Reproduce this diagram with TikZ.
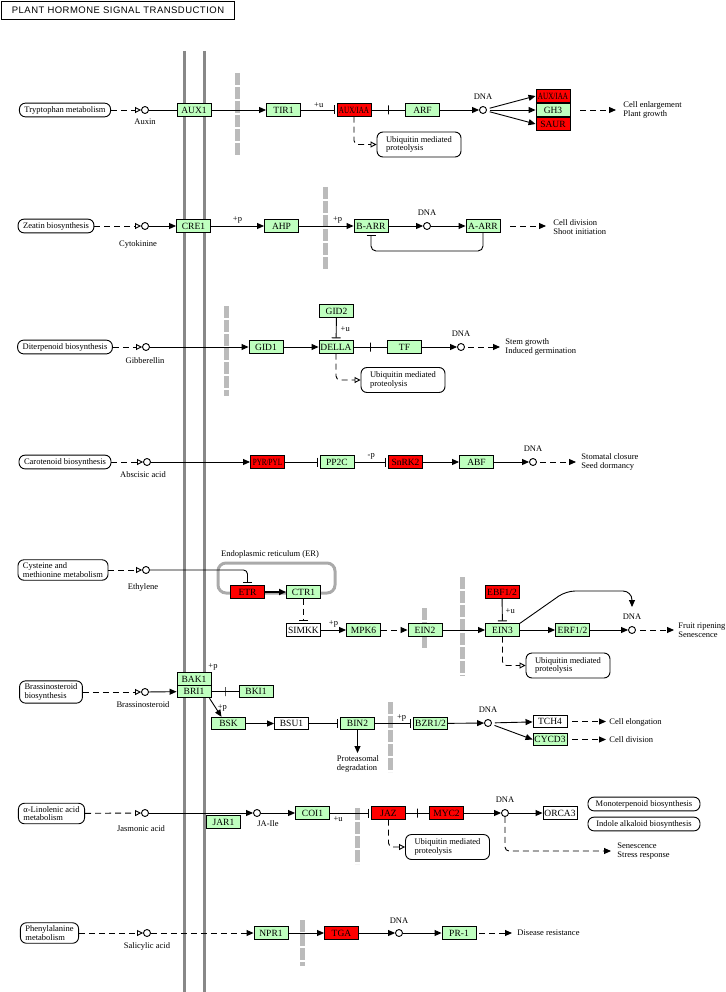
\documentclass[tikz,border=0pt]{standalone}
\usepackage{fontspec}
\setmainfont{Liberation Serif}
\newfontfamily\titlefont[LetterSpace=5]{Liberation Sans}
\usepackage{graphicx}
\usepackage{tikz}
\usetikzlibrary{arrows.meta}
\definecolor{keggreen}{HTML}{BFFFBF}
\definecolor{keggred}{HTML}{FF0000}
\definecolor{memgray}{HTML}{888888}
\definecolor{nucgray}{HTML}{BBBBBB}
\definecolor{ergray}{HTML}{AAAAAA}
\newcommand{\squeeze}[1]{\scalebox{0.75}[1]{#1}}
\tikzset{
  gene/.style = {draw=black, fill=keggreen, minimum width=34pt, minimum height=12.5pt,
    inner sep=0pt, font=\fontsize{9.5}{9.5}\selectfont},% gene box, green
  hitgene/.style = {gene, fill=keggred},% gene box, red
  plaingene/.style = {gene, fill=white},% gene box, no colour
  mapbox/.style = {draw=black, fill=white, rounded corners=6pt, align=left,
    inner xsep=5pt, inner ysep=3pt, font=\fontsize{8.5}{8.5}\selectfont},% link to another map
  ubqbox/.style = {mapbox, minimum width=84pt, minimum height=25pt},
  cpd/.style = {circle, draw=black, fill=white, minimum size=7pt, inner sep=0pt},% compound
  txt/.style = {inner sep=0pt, align=left, font=\fontsize{8.5}{8.5}\selectfont},
  titlebox/.style = {draw=black, line width=1.6pt, minimum width=233pt, minimum height=18pt,
    inner sep=0pt, font=\titlefont\fontsize{9.5}{9.5}\selectfont},
  erbox/.style = {draw=ergray, line width=3pt, rounded corners=8pt,
    minimum width=117pt, minimum height=30pt},% endoplasmic reticulum
  kdash/.style = {dash pattern=on 6pt off 4pt},
  act/.style = {-{Triangle[length=7pt,width=6pt]}},
  inh/.style = {-{Bar[width=9pt]}, shorten >=2pt},
  maplink/.style = {kdash, -{Triangle[open,length=6pt,width=6pt]}},
  indirect/.style = {kdash, act},
  midbar/.style = {draw, inner sep=0pt, minimum width=0pt, minimum height=9pt},
  membrane/.style = {line width=3pt, memgray},
  nucleus/.style = {line width=5pt, nucgray, dash pattern=on 12pt off 2pt}
}

\begin{document}
\begin{tikzpicture}[x=1pt, y=-1pt, line width=0.9pt]
	\useasboundingbox (0,0) rectangle (725,992);
	% cell membrane and nuclear envelope
	\draw[membrane] (184,51) -- (184,992);
	\draw[membrane] (204,51) -- (204,992);
	\foreach \nx/\ny/\nz in {237/73/156, 325/187/269, 226/306/396, 424/608/648,
		462/577/676, 390/702/772, 357/808/864, 302/920/966}
		\draw[nucleus] (\nx,\ny) -- (\nx,\nz);
	\node[titlebox] (title) at (118,10.5) {PLANT HORMONE SIGNAL TRANSDUCTION};

	% auxin
	\node[mapbox] (trp) at (65,110) {Tryptophan metabolism};
	\node[cpd] (auxin) at (145,110) {};
	\node[txt] (auxinlbl) at (145,122) {Auxin};
	\node[gene] (aux1) at (194,110) {AUX1};
	\node[gene] (tir1) at (283.5,110) {TIR1};
	\node[hitgene] (auxiaa) at (354,110) {\squeeze{AUX/IAA}};
	\node[gene] (arf) at (422.5,110) {ARF};
	\node[cpd] (dna1) at (483,110) {};
	\node[txt] (dna1lbl) at (483,97) {DNA};
	\node[hitgene] (auxiaab) at (553,96) {\squeeze{AUX/IAA}};
	\node[gene] (gh3) at (553,110) {GH3};
	\node[hitgene] (saur) at (553,124) {SAUR};
	\node[ubqbox] (ubq1) at (419,144.5) {Ubiquitin mediated\\proteolysis};
	\coordinate (gro1) at (580,110);
	\coordinate (gro2) at (616,110);
	\node[txt, anchor=west] (grolbl) at (623,110) {Cell enlargement\\Plant growth};
	\draw[maplink] (trp) -- (auxin);
	\draw (auxin) -- (aux1);
	\draw[act] (aux1) -- (tir1);
	\draw[inh] (tir1) -- node[txt, above=2pt] (ul1) {+u} (auxiaa);
	\draw (auxiaa) -- node[midbar] (bar1) {} (arf);
	\draw[act] (arf) -- (dna1);
	\draw[act, shorten <=3pt] (dna1) -- (auxiaab.west);
	\draw[act, shorten <=3pt] (dna1) -- (gh3);
	\draw[act, shorten <=3pt] (dna1) -- (saur.west);
	\draw[indirect] (gro1) -- (gro2);
	\draw[maplink, rounded corners=4pt] (auxiaa) |- (ubq1);

	% cytokinine
	\node[mapbox] (zea) at (56,226) {Zeatin biosynthesis};
	\node[cpd] (cyto) at (145,226) {};
	\node[txt] (cytolbl) at (138,244) {Cytokinine};
	\node[gene] (cre1) at (193.5,226) {CRE1};
	\node[gene] (ahp) at (281.5,226) {AHP};
	\node[gene] (barr) at (371,226) {B-ARR};
	\node[cpd] (dna2) at (427,226) {};
	\node[txt] (dna2lbl) at (427,213) {DNA};
	\node[gene] (aarr) at (483,226) {A-ARR};
	\coordinate (loop2) at (427,251);
	\coordinate (div1) at (510,226);
	\coordinate (div2) at (546,226);
	\node[txt, anchor=west] (divlbl) at (553,227) {Cell division\\Shoot initiation};
	\draw[maplink] (zea) -- (cyto);
	\draw[act] (cyto) -- (cre1);
	\draw[act] (cre1) -- node[txt, above=2pt] (pl2a) {+p} (ahp);
	\draw[act] (ahp) -- node[txt, above=2pt, pos=0.71] (pl2b) {+p} (barr);
	\draw[act] (barr) -- (dna2);
	\draw[act] (dna2) -- (aarr);
	\draw[inh, rounded corners=5pt] (aarr) |- (loop2) -| (barr);
	\draw[indirect] (div1) -- (div2);

	% gibberellin
	\node[mapbox] (diter) at (65,347) {Diterpenoid biosynthesis};
	\node[cpd] (gib) at (146,347) {};
	\node[txt] (giblbl) at (145,361) {Gibberellin};
	\node[gene] (gid1) at (266,347) {GID1};
	\node[gene] (della) at (336,347) {DELLA};
	\node[gene] (gid2) at (336.5,311) {GID2};
	\node[gene] (tf) at (404.5,347) {TF};
	\node[cpd] (dna3) at (461,347) {};
	\node[txt] (dna3lbl) at (461,334) {DNA};
	\node[ubqbox] (ubq3) at (403,380) {Ubiquitin mediated\\proteolysis};
	\coordinate (stem1) at (468,347);
	\coordinate (stem2) at (500,347);
	\node[txt, anchor=west] (stemlbl) at (505,347) {Stem growth\\Induced germination};
	\draw[maplink] (diter) -- (gib);
	\draw[act] (gib) -- (gid1);
	\draw[act] (gid1) -- (della);
	\draw[inh] (gid2) -- node[txt, right=4pt] (ul3) {+u} (della);
	\draw (della) -- node[midbar] (bar3) {} (tf);
	\draw[act] (tf) -- (dna3);
	\draw[indirect] (stem1) -- (stem2);
	\draw[maplink, rounded corners=4pt] (della) |- (ubq3);

	% abscisic acid
	\node[mapbox] (carot) at (65,462) {Carotenoid biosynthesis};
	\node[cpd] (aba) at (147,462) {};
	\node[txt] (abalbl) at (143,475) {Abscisic acid};
	\node[hitgene] (pyr) at (267.5,462) {\squeeze{PYR/PYL}};
	\node[gene] (pp2c) at (337,462) {PP2C};
	\node[hitgene] (snrk2) at (405.5,462) {SnRK2};
	\node[gene] (abf) at (476.5,462) {ABF};
	\node[cpd] (dna4) at (533,462) {};
	\node[txt] (dna4lbl) at (533,449) {DNA};
	\coordinate (sto1) at (540,462);
	\coordinate (sto2) at (576,462);
	\node[txt, anchor=west] (stolbl) at (581,462) {Stomatal closure\\Seed dormancy};
	\draw[maplink] (carot) -- (aba);
	\draw[act] (aba) -- (pyr);
	\draw[inh] (pyr) -- (pp2c);
	\draw[inh] (pp2c) -- node[txt, above=2pt] (mp4) {-p} (snrk2);
	\draw[act] (snrk2) -- (abf);
	\draw[act] (abf) -- (dna4);
	\draw[indirect] (sto1) -- (sto2);

	% ethylene
	\node[mapbox] (cys) at (63,570) {Cysteine and\\methionine metabolism};
	\node[cpd] (eth) at (146,570) {};
	\node[txt] (ethlbl) at (143,587) {Ethylene};
	\node[erbox] (er) at (276.5,578) {};
	\node[txt] (erlbl) at (270,554) {Endoplasmic reticulum (ER)};
	\node[hitgene] (etr) at (247.5,592) {ETR};
	\node[gene] (ctr1) at (303.5,592) {CTR1};
	\node[plaingene] (simkk) at (303.5,630) {SIMKK};
	\node[gene] (mpk6) at (363.5,630) {MPK6};
	\node[gene] (ein2) at (425,630) {EIN2};
	\node[gene] (ein3) at (502.5,630) {EIN3};
	\node[hitgene] (ebf) at (502,592) {EBF1/2};
	\node[gene] (erf) at (572.5,630) {ERF1/2};
	\node[cpd] (dna5) at (632,630) {};
	\node[txt] (dna5lbl) at (632,617) {DNA};
	\coordinate (bend5) at (566,591);
	\coordinate (top5) at (632,591);
	\coordinate (tip5) at (632,607);
	\node[ubqbox] (ubq5) at (568,665.5) {Ubiquitin mediated\\proteolysis};
	\coordinate (fru1) at (640,630);
	\coordinate (fru2) at (674,630);
	\node[txt, anchor=west] (frulbl) at (678,630) {Fruit ripening\\Senescence};
	\draw[maplink] (cys) -- (eth);
	\draw[inh, rounded corners=4pt] (eth) -| (etr);
	\draw[act, line width=2pt] (etr) -- (ctr1);
	\draw[inh, kdash] (ctr1) -- (simkk);
	\draw[act] (simkk) -- node[txt, above=2pt] (pl5) {+p} (mpk6);
	\draw[indirect] (mpk6) -- (ein2);
	\draw[act] (ein2) -- (ein3);
	\draw[inh] (ebf) -- node[txt, right=3pt] (ul5) {+u} (ein3);
	\draw[act] (ein3) -- (erf);
	\draw[act] (erf) -- (dna5);
	\draw[act, rounded corners=9pt] (ein3.north east) -- (bend5) -- (top5) -- (tip5);
	\draw[indirect] (fru1) -- (fru2);
	\draw[maplink, rounded corners=4pt] (ein3) |- (ubq5);

	% brassinosteroid
	\node[mapbox] (brs) at (51,692) {Brassinosteroid\\biosynthesis};
	\node[cpd] (brass) at (145,692) {};
	\node[txt] (brasslbl) at (143,705) {Brassinosteroid};
	\node[gene] (bak1) at (194,679) {BAK1};
	\node[gene] (bri1) at (194,691.5) {BRI1};
	\node[txt] (pl6a) at (213,667) {+p};
	\node[gene] (bki1) at (256,691.5) {BKI1};
	\node[gene] (bsk) at (228.5,723.5) {BSK};
	\node[plaingene] (bsu1) at (291.5,723.5) {BSU1};
	\node[gene] (bin2) at (357.5,723.5) {BIN2};
	\coordinate (deg) at (357.5,753);
	\node[txt] (deglbl) at (358,764) {Proteasomal\\degradation};
	\node[gene] (bzr) at (430.5,723.5) {BZR1/2};
	\node[cpd] (dna6) at (488,723) {};
	\node[txt] (dna6lbl) at (488,710) {DNA};
	\node[plaingene] (tch4) at (550,721.5) {TCH4};
	\node[gene] (cycd3) at (550,739.5) {CYCD3};
	\coordinate (el1) at (572,721.5);
	\coordinate (el2) at (606,721.5);
	\coordinate (cd1) at (572,739.5);
	\coordinate (cd2) at (606,739.5);
	\node[txt, anchor=west] (ellbl) at (609,722) {Cell elongation};
	\node[txt, anchor=west] (cdlbl) at (609,740) {Cell division};
	\draw[maplink] (brs) -- (brass);
	\draw[act] (brass) -- (bri1);
	\draw (bri1) -- node[midbar] (bar6) {} (bki1);
	\draw[act] ([xshift=-2pt]bri1.south east) -- node[txt, right=2pt] (pl6b) {+p} ([xshift=-7pt]bsk.north);
	\draw[act] (bsk) -- (bsu1);
	\draw[inh] (bsu1) -- (bin2);
	\draw[act] (bin2) -- (deg);
	\draw[inh] (bin2) -- node[txt, above=2pt, pos=0.7] (pl6c) {+p} (bzr);
	\draw[act] (bzr) -- (dna6);
	\draw[act, shorten <=3pt] (dna6) -- (tch4);
	\draw[act, shorten <=3pt] (dna6) -- (cycd3.west);
	\draw[indirect] (el1) -- (el2);
	\draw[indirect] (cd1) -- (cd2);

	% jasmonic acid
	\node[mapbox] (lin) at (51.5,813.5) {α-Linolenic acid\\metabolism};
	\node[cpd] (jasm) at (145,813) {};
	\node[txt] (jasmlbl) at (141,829) {Jasmonic acid};
	\node[gene] (jar1) at (223.5,822) {JAR1};
	\node[cpd] (jaile) at (257,813) {};
	\node[txt] (jailelbl) at (268,824) {JA-Ile};
	\node[gene] (coi1) at (312.5,813) {COI1};
	\node[hitgene] (jaz) at (388.5,813) {JAZ};
	\node[hitgene] (myc2) at (446.5,813) {MYC2};
	\node[cpd] (dna7) at (505,813) {};
	\node[txt] (dna7lbl) at (505,800) {DNA};
	\node[plaingene] (orca3) at (560,813) {ORCA3};
	\node[mapbox, minimum width=112pt] (mono) at (644,804) {Monoterpenoid biosynthesis};
	\node[mapbox, minimum width=112pt] (indole) at (644,824) {Indole alkaloid biosynthesis};
	\coordinate (sen) at (611,851);
	\node[txt, anchor=west] (senlbl) at (617,851) {Senescence\\Stress response};
	\node[ubqbox] (ubq7) at (447.5,847) {Ubiquitin mediated\\proteolysis};
	\draw[maplink] (lin) -- (jasm);
	\draw[act] (jasm) -- (jaile);
	\draw[act] (jaile) -- (coi1);
	\draw[inh] (coi1) -- node[txt, below=3pt, pos=0.2] (ul7) {+u} (jaz);
	\draw (jaz) -- node[midbar] (bar7) {} (myc2);
	\draw[act] (myc2) -- (dna7);
	\draw[act] (dna7) -- (orca3);
	\draw[indirect, rounded corners=4pt] (dna7) |- (sen);
	\draw[maplink, rounded corners=4pt] (jaz) |- (ubq7);

	% salicylic acid
	\node[mapbox] (phe) at (49.5,933) {Phenylalanine\\metabolism};
	\node[cpd] (sal) at (147,933) {};
	\node[txt] (sallbl) at (147,946) {Salicylic acid};
	\node[gene] (npr1) at (271,933) {NPR1};
	\node[hitgene] (tga) at (341.5,933) {TGA};
	\node[cpd] (dna8) at (399,933) {};
	\node[txt] (dna8lbl) at (399,921) {DNA};
	\node[gene] (pr1) at (459,933) {PR-1};
	\coordinate (dis1) at (479,933);
	\coordinate (dis2) at (512,933);
	\node[txt, anchor=west] (dislbl) at (517,933) {Disease resistance};
	\draw[maplink] (phe) -- (sal);
	\draw[indirect] (sal) -- (npr1);
	\draw[act] (npr1) -- (tga);
	\draw[act] (tga) -- (dna8);
	\draw[act] (dna8) -- (pr1);
	\draw[indirect] (dis1) -- (dis2);
\end{tikzpicture}
\end{document}
